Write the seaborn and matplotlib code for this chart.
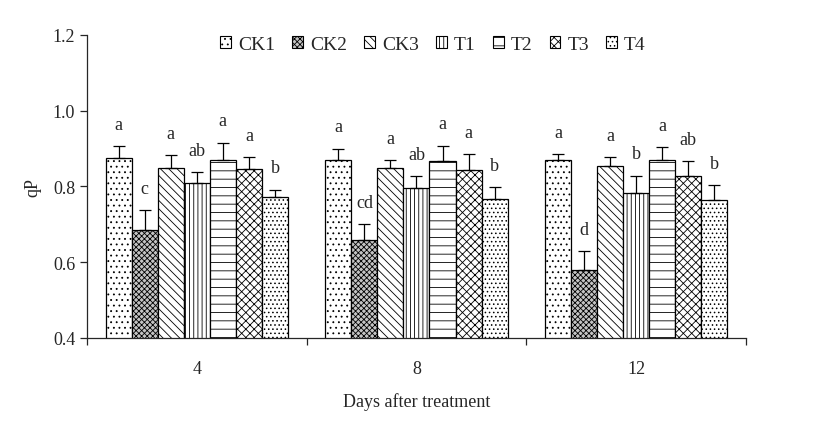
import pandas as pd
import matplotlib
matplotlib.use('Agg')
import matplotlib.pyplot as plt
from matplotlib.patches import Patch
from matplotlib.ticker import FixedLocator, NullFormatter
import seaborn as sns

days = ['4', '8', '12']
treatments = ['CK1', 'CK2', 'CK3', 'T1', 'T2', 'T3', 'T4']

qp_day4 = [0.876, 0.684, 0.850, 0.810, 0.871, 0.847, 0.771]
qp_day8 = [0.870, 0.659, 0.850, 0.795, 0.866, 0.843, 0.767]
qp_day12 = [0.870, 0.579, 0.853, 0.784, 0.869, 0.827, 0.764]

se_day4 = [0.030, 0.053, 0.032, 0.027, 0.045, 0.030, 0.021]
se_day8 = [0.030, 0.041, 0.019, 0.032, 0.042, 0.042, 0.031]
se_day12 = [0.016, 0.050, 0.024, 0.045, 0.034, 0.039, 0.039]

letters_day4 = ['a', 'c', 'a', 'ab', 'a', 'a', 'b']
letters_day8 = ['a', 'cd', 'a', 'ab', 'a', 'a', 'b']
letters_day12 = ['a', 'd', 'a', 'b', 'a', 'ab', 'b']

# fill patterns, one per treatment (CK2 is a dark dense mesh)
hatches = ['...', 'xxxxxx', '\\\\\\\\', '||||', '--', 'xxxx', '....']
fills = ['white', '#c4c4c4', 'white', 'white', 'white', 'white', 'white']


def build_frame():
    rows = []
    for day, vals, errs, lets in zip(days,
                                     [qp_day4, qp_day8, qp_day12],
                                     [se_day4, se_day8, se_day12],
                                     [letters_day4, letters_day8, letters_day12]):
        for t, v, e, l in zip(treatments, vals, errs, lets):
            rows.append({'day': day, 'treatment': t, 'qP': v, 'se': e, 'letter': l})
    return pd.DataFrame(rows)


df = build_frame()

sns.set_style('ticks')
plt.rcParams['font.family'] = ['Liberation Serif', 'DejaVu Serif']
plt.rcParams['hatch.linewidth'] = 0.6

fig = plt.figure(figsize=(8.27, 4.31), dpi=100)
ax = fig.add_axes([0.1052, 0.2135, 0.7968, 0.703])

sns.barplot(data=df, x='day', y='qP', hue='treatment', order=days,
            hue_order=treatments, palette=fills, width=0.83,
            errorbar=None, edgecolor='black', linewidth=0.9,
            saturation=1, legend=False, ax=ax)

bar_groups = list(ax.containers)
for i, cont in enumerate(bar_groups):
    sub = df[df['treatment'] == treatments[i]].set_index('day').loc[days]
    for bar, (_, row) in zip(cont, sub.iterrows()):
        bar.set_hatch(hatches[i])
        xc = bar.get_x() + bar.get_width() / 2
        top = bar.get_height()
        ax.errorbar(xc, top, yerr=[[0], [row['se']]], fmt='none',
                    ecolor='black', elinewidth=0.9, capsize=4, capthick=0.9)
        ax.text(xc, top + row['se'] + 0.035, row['letter'], ha='center',
                va='bottom', fontsize=13)

ax.set_ylim(0.4, 1.2)
ax.set_yticks([0.4, 0.6, 0.8, 1.0, 1.2])
ax.set_yticklabels(['0.4', '0.6', '0.8', '1.0', '1.2'], fontsize=13)
ax.set_xlim(-0.5, 2.5)
ax.set_xticks(range(len(days)))
ax.set_xticklabels(days, fontsize=13)
ax.tick_params(axis='x', which='major', length=0, pad=16)
ax.xaxis.set_minor_locator(FixedLocator([-0.5, 0.5, 1.5, 2.5]))
ax.xaxis.set_minor_formatter(NullFormatter())
ax.tick_params(axis='x', which='minor', length=5, direction='out', width=0.9)
ax.tick_params(axis='y', length=5, direction='out', width=0.9)
ax.set_xlabel('Days after treatment', fontsize=13, labelpad=11)
ax.set_ylabel('qP', fontsize=13, labelpad=8)
sns.despine(ax=ax)
for s in ['left', 'bottom']:
    ax.spines[s].set_linewidth(0.9)

handles = [Patch(facecolor=f, edgecolor='black', hatch=h, linewidth=0.8)
           for f, h in zip(fills, hatches)]
ax.legend(handles, treatments, loc='upper center', bbox_to_anchor=(0.525, 1.055),
          ncol=7, frameon=False, fontsize=14, handlelength=0.55,
          handleheight=0.55, handletextpad=0.35, columnspacing=0.9)

fig.savefig('out.png', dpi=100)
